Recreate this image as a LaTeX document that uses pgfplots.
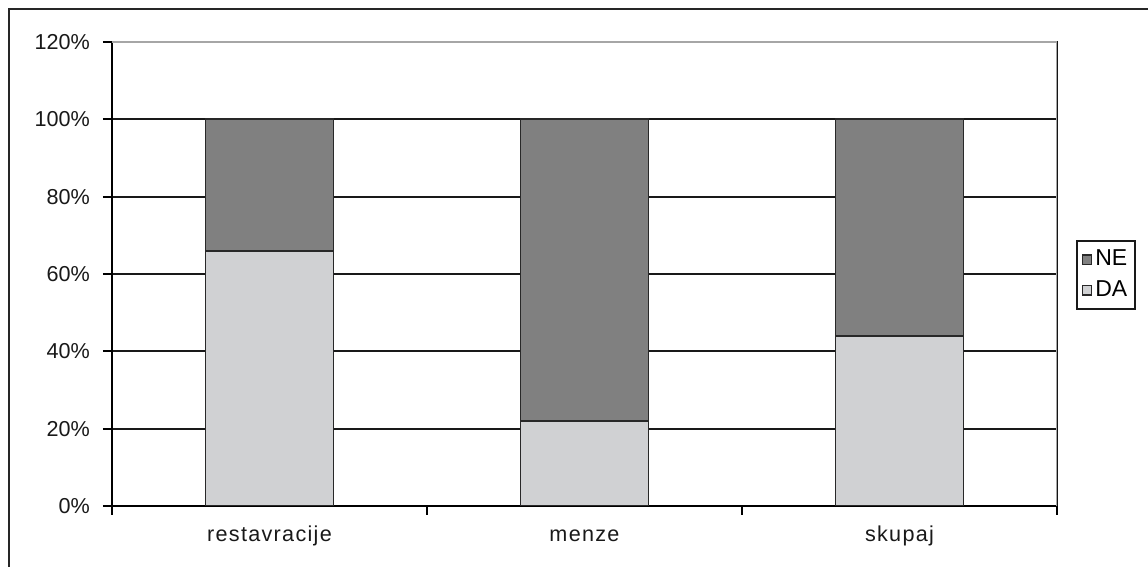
\documentclass[border=0pt]{standalone}
\usepackage{pgfplots}
\pgfplotsset{compat=1.18}
\usepackage{fontspec}
\setmainfont{Liberation Sans}
\newfontfamily\spaced[LetterSpace=6]{Liberation Sans}
\definecolor{ne}{RGB}{128,128,128}
\definecolor{da}{RGB}{208,209,211}
\definecolor{edge}{RGB}{40,40,40}

\pgfplotstableread{
x  da  ne
0  66  34
1  22  78
2  44  56
}\shares

\begin{document}
\begin{tikzpicture}
\useasboundingbox (-56pt,-30.5pt) rectangle (518pt,253pt);
\begin{axis}[
    at={(0,0)}, anchor=south west,
    scale only axis,
    width=472.5pt, height=232pt,
    ybar stacked,
    bar width=64pt,
    ymin=0, ymax=120,
    xmin=-0.5, xmax=2.5,
    ytick={0,20,...,120},
    yticklabel={\pgfmathprintnumber{\tick}\%},
    ymajorgrids,
    grid style={black!90, line width=1pt},
    xtick={-0.5,0.5,1.5,2.5},
    xticklabels={},
    extra x ticks={0,1,2},
    extra x tick labels={restavracije,menze,skupaj},
    extra x tick style={major tick length=0pt},
    tick align=outside,
    tick pos=left,
    major tick length=4.5pt,
    tick style={black, line width=1pt},
    axis line style={black, line width=1pt},
    tick label style={font=\fontsize{10.8}{13}\selectfont, text=black!90},
    xticklabel style={yshift=-6pt, text height=1.6ex, text depth=0.3ex, font=\spaced\fontsize{10.8}{13}\selectfont},
    yticklabel style={xshift=-3pt},
    /pgf/number format/assume math mode=true,
    reverse legend,
    legend style={at={(1.0201,0.498)}, anchor=west, draw=black!90, line width=1pt,
        font=\fontsize{11.5}{13}\selectfont, inner xsep=2.5pt, inner ysep=2.5pt, row sep=2pt,
        cells={anchor=west}, nodes={inner xsep=1.5pt}},
    legend image code/.code={\draw[#1, line width=0.6pt] (0.6pt,-2.3pt) rectangle (5.2pt,2.3pt);},
]
\addplot[fill=da, draw=edge, line width=0.9pt] table[x=x, y=da] {\shares};
\addlegendentry{DA}
\addplot[fill=ne, draw=edge, line width=0.9pt] table[x=x, y=ne] {\shares};
\addlegendentry{NE}
\draw[gray!70, line width=1pt] (rel axis cs:0,1) -- (rel axis cs:1,1) -- (rel axis cs:1,0);
\draw[black, line width=1pt] (rel axis cs:0,0) -- (rel axis cs:0,1);
\draw[black, line width=1pt] (rel axis cs:0,0) -- (rel axis cs:1,0);
\end{axis}
\draw[black!85, line width=1.2pt] (-51.5pt,-40pt) -- (-51.5pt,248.5pt) -- (530pt,248.5pt);
\end{tikzpicture}
\end{document}
